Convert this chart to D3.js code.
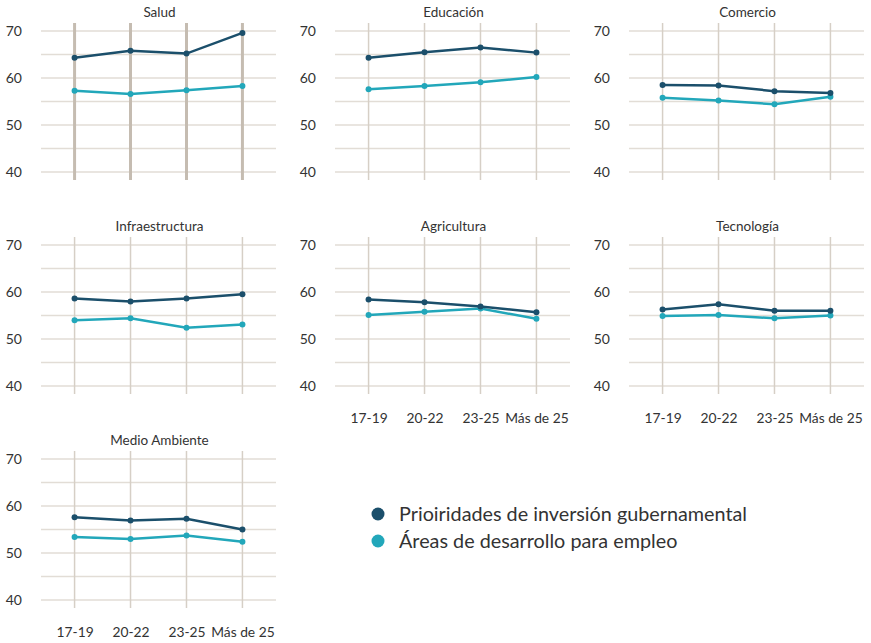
<!DOCTYPE html>
<html><head><meta charset="utf-8">
<script src="https://cdn.jsdelivr.net/npm/d3@7"></script>
<style>body{margin:0;background:#fff;} text{font-family:Lato,"Open Sans",sans-serif;fill:#333;}</style>
</head><body>
<svg id="c" width="871" height="643"></svg>
<script>
const categories = ["17-19","20-22","23-25","Más de 25"];
const sectors = ["Salud","Educación","Comercio","Infraestructura","Agricultura","Tecnología","Medio Ambiente"];
const seriesNames = ["Prioiridades de inversión gubernamental","Áreas de desarrollo para empleo"];
const gobierno = [
  [64.3,65.8,65.2,69.6],
  [64.3,65.5,66.5,65.4],
  [58.5,58.4,57.2,56.8],
  [58.6,58.0,58.6,59.5],
  [58.4,57.8,56.9,55.7],
  [56.3,57.4,56.0,56.0],
  [57.6,56.9,57.3,55.0]
];
const empleo = [
  [57.3,56.6,57.4,58.3],
  [57.6,58.3,59.1,60.2],
  [55.8,55.2,54.4,56.0],
  [54.0,54.4,52.4,53.1],
  [55.1,55.8,56.5,54.3],
  [54.9,55.1,54.4,55.0],
  [53.4,53.0,53.7,52.4]
];
const yTickLabels = [40,50,60,70];
const yGrid = [40,45,50,55,60,65,70];
const colors = ["#1b4f6b","#22a7ba"];

const svg = d3.select("#c");
const W = 235, H = 157;
sectors.forEach((s,i)=>{
  const r = Math.floor(i/3), c = i%3;
  const left = 41 + c*294, top = 23 + r*214;
  const g = svg.append("g").attr("transform",`translate(${left},${top})`);
  const x = d3.scalePoint().domain(categories).range([0,W]).padding(0.6);
  const y = d3.scaleLinear().domain([40,70]).range([149,8]);
  g.append("g").selectAll("line").data(yGrid).join("line")
    .attr("x1",0).attr("x2",W).attr("y1",d=>y(d)).attr("y2",d=>y(d))
    .attr("stroke","#e2ddd6").attr("stroke-width",1.5);
  g.append("g").selectAll("line").data(categories).join("line")
    .attr("x1",d=>x(d)).attr("x2",d=>x(d)).attr("y1",0).attr("y2",H)
    .attr("stroke", i===0 ? "#c5bcb1" : "#d6cfc6").attr("stroke-width", i===0 ? 3 : 1.5);
  const ya = d3.axisLeft(y).tickValues(yTickLabels).tickSize(0).tickPadding(0);
  const yg = g.append("g").attr("transform","translate(-19,0)").call(ya);
  yg.select(".domain").remove();
  yg.selectAll("text").style("font-size","14px").attr("fill","#333");
  g.append("text").attr("x",W/2+1).attr("y",-6).attr("text-anchor","middle")
    .style("font-size","13.5px").text(s);
  const hasBelow = i+3 < sectors.length;
  if(!hasBelow){
    const xa = d3.axisBottom(x).tickSize(0).tickPadding(0);
    const xg = g.append("g").attr("transform",`translate(0,${H+19})`).call(xa);
    xg.select(".domain").remove();
    xg.selectAll("text").style("font-size","13.8px").attr("fill","#333");
  }
  [gobierno[i], empleo[i]].slice().reverse().forEach((vals,k)=>{
    const idx = 1-k;
    const data = vals.map((v,j)=>({c:categories[j],v}));
    g.append("path").datum(data)
      .attr("fill","none").attr("stroke",colors[idx]).attr("stroke-width",2.5)
      .attr("d", d3.line().x(d=>x(d.c)).y(d=>y(d.v)));
    g.append("g").selectAll("circle").data(data).join("circle")
      .attr("cx",d=>x(d.c)).attr("cy",d=>y(d.v)).attr("r",3).attr("fill",colors[idx]);
  });
});
const lg = svg.append("g").attr("transform","translate(378,514)");
seriesNames.forEach((n,k)=>{
  lg.append("circle").attr("cx",0).attr("cy",k*27).attr("r",6.5).attr("fill",colors[k]);
  lg.append("text").attr("x",21).attr("y",k*27).attr("dy","0.35em")
    .style("font-size","19.8px").text(n);
});
</script>
</body></html>
